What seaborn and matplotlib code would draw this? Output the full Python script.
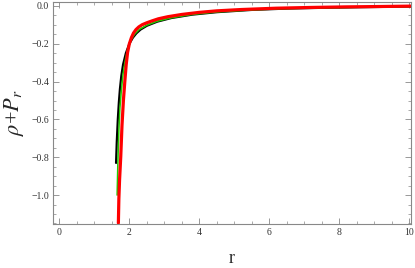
import numpy as np
import pandas as pd
import matplotlib
matplotlib.use("Agg")
import matplotlib.pyplot as plt
import seaborn as sns
from matplotlib.ticker import MultipleLocator, FuncFormatter

# --- data ---
r_black = [1.62, 1.64, 1.67, 1.70, 1.73, 1.77, 1.82, 1.90, 2.0, 2.1, 2.2, 2.32, 2.5, 2.8, 3.2, 3.8, 4.5, 5.5, 6.5, 7.5, 8.5, 10.05]
y_black = [-0.83, -0.72, -0.60, -0.51, -0.44, -0.37, -0.31, -0.25, -0.20, -0.168, -0.145, -0.125, -0.105, -0.083, -0.064, -0.046, -0.033, -0.021, -0.014, -0.010, -0.007, -0.003]

r_green = [1.65, 1.67, 1.70, 1.73, 1.77, 1.82, 1.88, 1.95, 2.05, 2.15, 2.28, 2.5, 2.8, 3.2, 3.8, 4.5, 5.5, 6.5, 7.5, 8.5, 10.05]
y_green = [-1.0, -0.84, -0.66, -0.54, -0.45, -0.36, -0.29, -0.23, -0.178, -0.150, -0.125, -0.102, -0.081, -0.063, -0.045, -0.032, -0.021, -0.014, -0.010, -0.007, -0.003]

r_red = [1.686, 1.70, 1.72, 1.754, 1.79, 1.83, 1.87, 1.91, 1.95, 2.0, 2.06, 2.12, 2.19, 2.27, 2.37, 2.5, 2.65, 2.83, 3.1, 3.5, 4.0, 4.5, 5.2, 6.2, 7.2, 8.2, 9.2, 10.05]
y_red = [-1.148, -1.02, -0.92, -0.797, -0.63, -0.50, -0.40, -0.31, -0.245, -0.20, -0.167, -0.143, -0.125, -0.111, -0.099, -0.089, -0.079, -0.068, -0.057, -0.045, -0.034, -0.026, -0.019, -0.012, -0.008, -0.005, -0.003, -0.001]

sns.set_style("ticks")
plt.rcParams['font.family'] = ['Liberation Serif', 'DejaVu Serif']
plt.rcParams['mathtext.fontset'] = 'stix'

fig = plt.figure(figsize=(4.15, 2.68), dpi=100)
ax = fig.add_axes([0.128, 0.164, 0.862, 0.828])

sns.lineplot(x=r_black, y=y_black, ax=ax, color='black', linewidth=1.6, sort=False, estimator=None)
sns.lineplot(x=r_green, y=y_green, ax=ax, color='#22cc00', linewidth=1.1, sort=False, estimator=None)
sns.lineplot(x=r_red, y=y_red, ax=ax, color='#ff0000', linewidth=2.3, sort=False, estimator=None)

ax.set_xlim(-0.18, 10.05)
ax.set_ylim(-1.153, 0.02)

ax.xaxis.set_major_locator(MultipleLocator(2))
ax.xaxis.set_minor_locator(MultipleLocator(0.5))
ax.yaxis.set_major_locator(MultipleLocator(0.2))
ax.yaxis.set_minor_locator(MultipleLocator(0.05))
ax.xaxis.set_major_formatter(FuncFormatter(lambda v, p: f"{v:.0f}"))
ax.yaxis.set_major_formatter(FuncFormatter(lambda v, p: ("\u2212" if v < -1e-9 else "") + f"{abs(v):.1f}"))

frame_col = '#888888'
for s in ax.spines.values():
    s.set_color(frame_col)
    s.set_linewidth(0.8)
ax.tick_params(which='both', direction='in', top=True, right=True, color=frame_col, labelsize=7, labelcolor='#333333', pad=3)
ax.tick_params(which='major', length=4, width=0.6)
ax.tick_params(which='minor', length=2, width=0.5)

ax.set_xlabel("r", fontsize=13, labelpad=9)
ax.set_ylabel(r"$\rho$+$P_r$", fontsize=16, labelpad=4)

fig.savefig("out.png", dpi=100)
